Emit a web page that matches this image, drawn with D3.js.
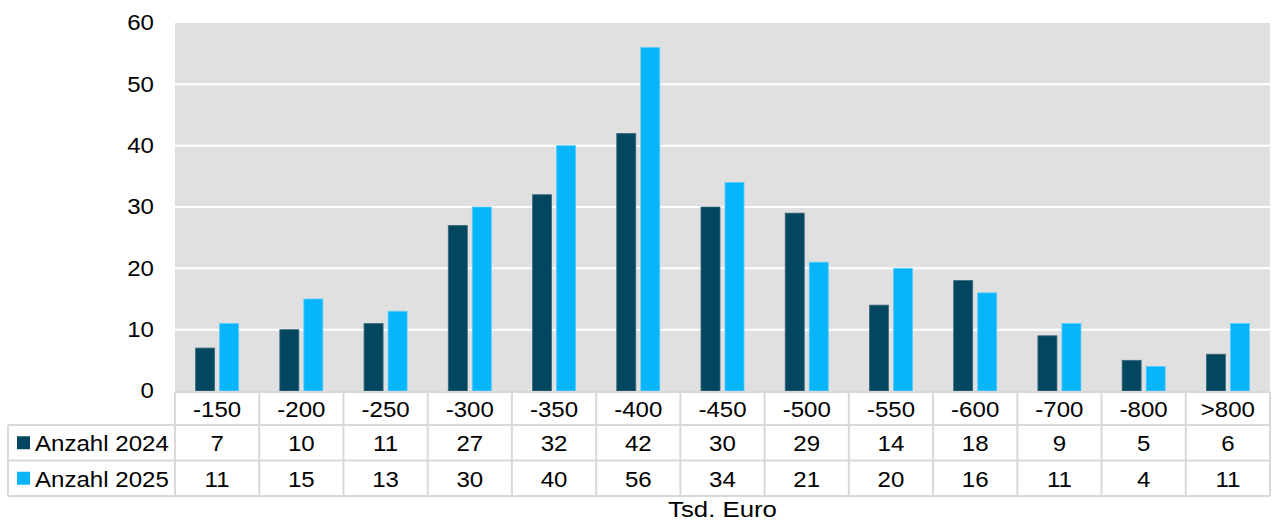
<!DOCTYPE html>
<html>
<head>
<meta charset="utf-8">
<script src="https://cdn.jsdelivr.net/npm/d3@7"></script>
<style>
html,body{margin:0;padding:0;background:#fff;}
svg{display:block;font-family:"Liberation Sans",Arial,sans-serif;}
</style>
</head>
<body>
<svg id="chart" width="1274" height="525"></svg>
<script>
const categories = ["-150","-200","-250","-300","-350","-400","-450","-500","-550","-600","-700","-800",">800"];
const seriesNames = ["Anzahl 2024","Anzahl 2025"];
const values2024 = [7,10,11,27,32,42,30,29,14,18,9,5,6];
const values2025 = [11,15,13,30,40,56,34,21,20,16,11,4,11];
const yTicks = [0,10,20,30,40,50,60];
const seriesColors = ["#03465F","#07B5FD"];
const axisTitle = "Tsd. Euro";

(function () {
const seriesValues = [values2024, values2025];
const svg = d3.select("#chart");

const pLeft = 175, pRight = 1270, pTop = 23, pBottom = 391;
const tableTop = 392, rowH = [33, 35.5, 35.5];
const tableLeft = 8;
const fontSize = 21.5;
const sx = 1.12;

function placeText(sel, x, yy) {
  sel.attr("transform", (d, i) => {
    const xv = typeof x === "function" ? x(d, i) : x;
    const yv = typeof yy === "function" ? yy(d, i) : yy;
    return `translate(${xv},${yv}) scale(${sx},1)`;
  });
}

const x0 = d3.scaleBand().domain(categories).range([pLeft, pRight]).padding(0);
const x1 = d3.scaleBand().domain(seriesNames).range([0, x0.bandwidth()])
  .paddingInner(0.208).paddingOuter(0.858);
const y = d3.scaleLinear().domain([0, 60]).range([pBottom, pTop]);

svg.append("rect").attr("x", pLeft).attr("y", pTop)
  .attr("width", pRight - pLeft).attr("height", pBottom - pTop + 1)
  .attr("fill", "#E0E0E0");

svg.append("g").selectAll("line").data(yTicks.filter(t => t > 0 && t < 60)).join("line")
  .attr("x1", pLeft).attr("x2", pRight)
  .attr("y1", d => y(d)).attr("y2", d => y(d))
  .attr("stroke", "#fff").attr("stroke-width", 2);

const yAxis = d3.axisLeft(y).tickValues(yTicks).tickSize(0).tickPadding(0);
const ya = svg.append("g").attr("transform", `translate(154,0)`).call(yAxis);
ya.select(".domain").remove();
ya.selectAll("text").attr("font-size", fontSize).attr("fill", "#000")
  .attr("font-family", "Liberation Sans, Arial, sans-serif")
  .attr("x", 0).attr("transform", `scale(${sx},1)`);

const groups = svg.append("g").selectAll("g").data(categories).join("g")
  .attr("transform", d => `translate(${x0(d)},0)`);
groups.selectAll("rect").data((c, i) => seriesNames.map((s, k) => ({s, k, v: seriesValues[k][i]})))
  .join("rect")
  .attr("x", d => x1(d.s))
  .attr("width", x1.bandwidth())
  .attr("y", d => y(d.v))
  .attr("height", d => y(0) - y(d.v))
  .attr("fill", d => seriesColors[d.k])
  .attr("stroke", d => d.k === 0 ? "#3a6a7c" : "#5ccbf7")
  .attr("stroke-width", 0.8);

const border = "#D9D9D9";
const bw = 2;
const rowY = [tableTop, tableTop + rowH[0], tableTop + rowH[0] + rowH[1], tableTop + rowH[0] + rowH[1] + rowH[2]];
const tg = svg.append("g");
tg.append("line").attr("x1", pLeft).attr("x2", pRight).attr("y1", rowY[0]).attr("y2", rowY[0])
  .attr("stroke", border).attr("stroke-width", bw);
[1, 2, 3].forEach(r => {
  tg.append("line").attr("x1", tableLeft).attr("x2", pRight).attr("y1", rowY[r]).attr("y2", rowY[r])
    .attr("stroke", border).attr("stroke-width", bw);
});
tg.append("line").attr("x1", tableLeft).attr("x2", tableLeft).attr("y1", rowY[1]).attr("y2", rowY[3])
  .attr("stroke", border).attr("stroke-width", bw);
const vx = categories.map(c => x0(c)).concat([pRight]);
tg.selectAll("line.v").data(vx).join("line").attr("class", "v")
  .attr("x1", d => d).attr("x2", d => d).attr("y1", rowY[0]).attr("y2", rowY[3])
  .attr("stroke", border).attr("stroke-width", bw);

tg.selectAll("text.cat").data(categories).join("text").attr("class", "cat")
  .call(placeText, d => x0(d) + x0.bandwidth() / 2, (rowY[0] + rowY[1]) / 2 + 1)
  .attr("text-anchor", "middle").attr("dominant-baseline", "central")
  .attr("font-size", fontSize).text(d => d);

seriesNames.forEach((s, k) => {
  const cy = (rowY[k + 1] + rowY[k + 2]) / 2 + 1;
  tg.append("rect").attr("x", 17).attr("y", cy - 7.5).attr("width", 13).attr("height", 13)
    .attr("fill", seriesColors[k]);
  tg.append("text").call(placeText, 35, cy).attr("dominant-baseline", "central")
    .attr("font-size", fontSize).text(s);
  tg.selectAll("text.v" + k).data(seriesValues[k]).join("text").attr("class", "v" + k)
    .call(placeText, (d, i) => x0(categories[i]) + x0.bandwidth() / 2, cy)
    .attr("text-anchor", "middle").attr("dominant-baseline", "central")
    .attr("font-size", fontSize).text(d => d);
});

svg.append("text").call(placeText, (pLeft + pRight) / 2, 509)
  .attr("text-anchor", "middle").attr("dominant-baseline", "central")
  .attr("font-size", 23).text(axisTitle);
})();
</script>
</body>
</html>
